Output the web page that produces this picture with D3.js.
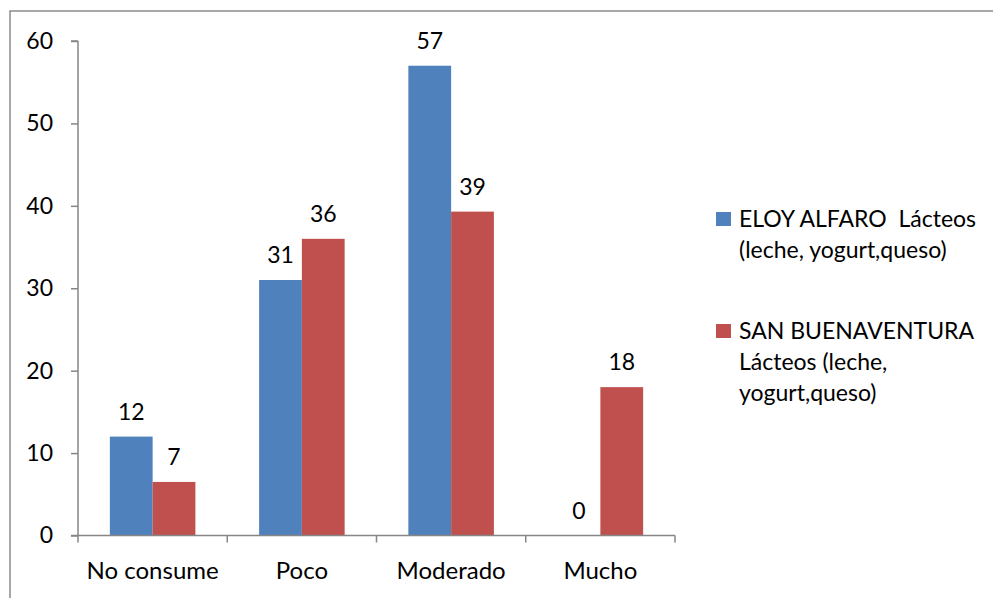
<!DOCTYPE html>
<html>
<head>
<meta charset="utf-8">
<script src="https://cdn.jsdelivr.net/npm/d3@7"></script>
<style>
  body { margin: 0; background: #fff; }
  text { font-family: Lato, "Open Sans", sans-serif; fill: #000; }
</style>
</head>
<body>
<div id="chart"></div>
<script>
const categories = ['No consume', 'Poco', 'Moderado', 'Mucho'];
const seriesNames = ['ELOY ALFARO  Lácteos (leche, yogurt,queso)', 'SAN BUENAVENTURA Lácteos (leche, yogurt,queso)'];
const eloyAlfaro = [12, 31, 57, 0];
const sanBuenaventura = [6.5, 36, 39.3, 18];
const yTicks = [0, 10, 20, 30, 40, 50, 60];
const legendLines = [
    ['ELOY ALFARO  Lácteos', '(leche, yogurt,queso)'],
    ['SAN BUENAVENTURA', 'Lácteos (leche,', 'yogurt,queso)']
];
const colors = ['#4f81bd', '#c0504d'];

const [svgWidth, svgHeight] = [993, 598];
const plot = { left: 78, right: 675, top: 41, bottom: 535.5 };
const fontSize = 23;

const svg = d3.select('#chart').append('svg')
    .attr('width', svgWidth)
    .attr('height', svgHeight);

// outer chart border
svg.append('rect')
    .attr('x', 10).attr('y', 11)
    .attr('width', 1200).attr('height', 800)
    .attr('fill', 'none')
    .attr('stroke', '#8c8c8c')
    .attr('stroke-width', 1.5);

const x0 = d3.scaleBand().domain(categories).range([plot.left, plot.right]);
const x1 = d3.scaleBand().domain([0, 1]).range([0, x0.bandwidth()]).paddingOuter(0.745);
const y = d3.scaleLinear().domain([0, 60]).range([plot.bottom, plot.top]);

const rows = categories.map((c, i) => ({ cat: c, values: [eloyAlfaro[i], sanBuenaventura[i]] }));

const groups = svg.append('g').selectAll('g')
    .data(rows)
    .join('g')
    .attr('transform', d => 'translate(' + x0(d.cat) + ',0)');

groups.selectAll('rect')
    .data(d => d.values.map((v, s) => ({ v, s })))
    .join('rect')
    .attr('x', d => x1(d.s))
    .attr('y', d => y(d.v))
    .attr('width', x1.bandwidth())
    .attr('height', d => y(0) - y(d.v))
    .attr('fill', d => colors[d.s]);

groups.selectAll('text.lbl')
    .data(d => d.values.map((v, s) => ({ v, s })))
    .join('text')
    .attr('class', 'lbl')
    .attr('x', d => x1(d.s) + x1.bandwidth() / 2)
    .attr('y', d => y(d.v) - 17)
    .attr('text-anchor', 'middle')
    .style('font-size', fontSize + 'px')
    .text(d => d3.format('.0f')(d.v));

// y axis
const yAxis = svg.append('g')
    .attr('transform', 'translate(' + plot.left + ',0)')
    .call(d3.axisLeft(y).tickValues(yTicks).tickSize(7).tickPadding(18));
yAxis.selectAll('path, line').attr('stroke', '#868686').attr('stroke-width', 1.5);
yAxis.select('.domain').attr('d', 'M0,' + plot.top + 'V' + plot.bottom + 'M-7,' + plot.top + 'H0');
yAxis.selectAll('text').style('font-size', fontSize + 'px').attr('fill', '#000').style('font-family', 'Lato, sans-serif');

// x axis
const xAxis = svg.append('g')
    .attr('transform', 'translate(0,' + plot.bottom + ')')
    .call(d3.axisBottom(x0).tickSize(0).tickPadding(26));
xAxis.select('.domain').attr('stroke', '#868686').attr('stroke-width', 1.5)
    .attr('d', 'M' + (plot.left - 7) + ',0H' + plot.right);
xAxis.selectAll('text').style('font-size', '24px').attr('fill', '#000').style('font-family', 'Lato, sans-serif');
// category separators
xAxis.selectAll('line.sep')
    .data(categories)
    .join('line')
    .attr('class', 'sep')
    .attr('x1', d => x0(d) + x0.bandwidth())
    .attr('x2', d => x0(d) + x0.bandwidth())
    .attr('y1', 0).attr('y2', 7)
    .attr('stroke', '#868686').attr('stroke-width', 1.5);
xAxis.append('line')
    .attr('x1', plot.left).attr('x2', plot.left)
    .attr('y1', 0).attr('y2', 7)
    .attr('stroke', '#868686').attr('stroke-width', 1.5);

// legend
const legendTop = [219, 331];
const legend = svg.append('g').selectAll('g')
    .data(legendLines)
    .join('g')
    .attr('transform', (d, i) => 'translate(716,' + legendTop[i] + ')');
legend.append('rect')
    .attr('x', 0).attr('y', -7)
    .attr('width', 15).attr('height', 14)
    .attr('fill', (d, i) => colors[i]);
legend.each(function (lines) {
    d3.select(this).selectAll('text')
        .data(lines)
        .join('text')
        .attr('x', 23)
        .attr('y', (d, j) => j * 31)
        .attr('dy', '0.35em')
        .attr('xml:space', 'preserve')
        .style('white-space', 'pre')
        .style('font-size', fontSize + 'px')
        .text(d => d);
});
</script>
</body>
</html>
